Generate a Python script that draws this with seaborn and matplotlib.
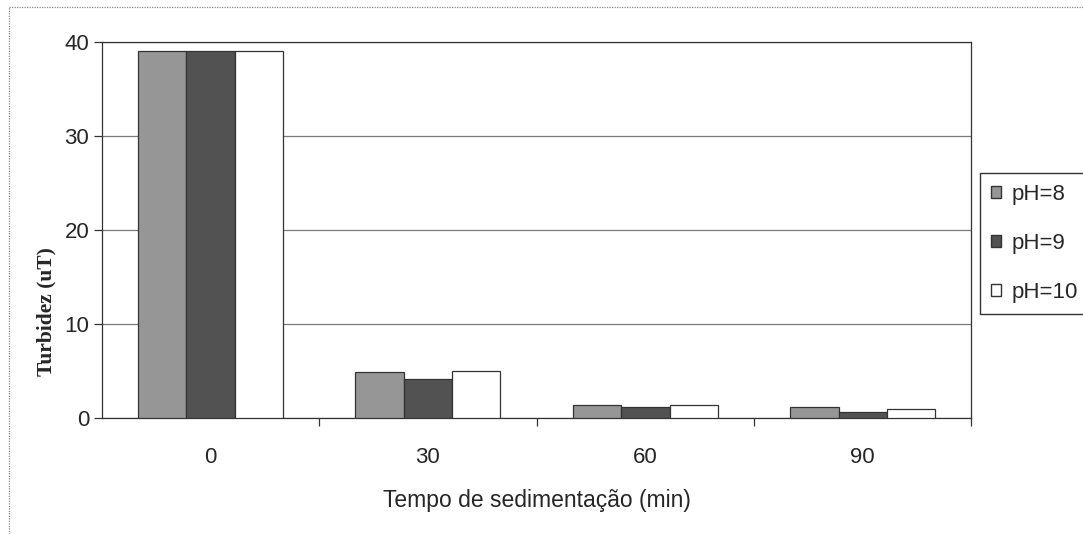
import matplotlib.pyplot as plt
import matplotlib.patches as mpatches
import matplotlib.lines as mlines
import seaborn as sns
import pandas as pd

# data
tempos = ["0", "30", "60", "90"]
ph8 = [39.0, 4.9, 1.35, 1.2]
ph9 = [39.0, 4.15, 1.2, 0.7]
ph10 = [39.0, 5.0, 1.4, 0.95]
series = ["pH=8", "pH=9", "pH=10"]
cores = ["#969696", "#525252", "#ffffff"]

df = pd.DataFrame({
    "tempo": tempos * 3,
    "turbidez": ph8 + ph9 + ph10,
    "serie": [s for s in series for _ in tempos],
})

sns.set_theme(style="white")
plt.rcParams["font.family"] = ["Liberation Sans", "DejaVu Sans"]

fig = plt.figure(figsize=(10.83, 5.34), dpi=100)
ax = fig.add_axes([0.094, 0.217, 0.803, 0.705])

sns.barplot(data=df, x="tempo", y="turbidez", hue="serie", order=tempos,
            hue_order=series, palette=cores, width=0.667, saturation=1,
            edgecolor="#333333", linewidth=0.9, ax=ax, legend=False, zorder=3)

ax.set_ylim(0, 40)
ax.set_xlim(-0.5, 3.5)
ax.set_yticks([0, 10, 20, 30, 40])
ax.yaxis.grid(True, color="#7a7a7a", linewidth=0.9, zorder=0)
ax.set_axisbelow(True)

# category labels without tick marks, tick marks at category boundaries
ax.set_xticks(range(len(tempos)))
ax.set_xticklabels(tempos)
ax.set_xticks([0.5, 1.5, 2.5, 3.5], minor=True)
ax.tick_params(axis="x", which="major", length=0, pad=21, labelsize=16)
ax.tick_params(axis="x", which="minor", length=6, width=0.9, color="#333333", bottom=True)
ax.tick_params(axis="y", length=6, width=0.9, color="#333333", left=True, labelsize=16, pad=3)

for s in ax.spines.values():
    s.set_color("#333333")
    s.set_linewidth(0.9)

ax.set_xlabel("Tempo de sedimentação (min)", fontsize=16.5, labelpad=15)
ax.set_ylabel("Turbidez (uT)", fontsize=15.5, family=["Liberation Serif"],
              fontweight="bold")
ax.yaxis.set_label_coords(-0.052, 0.282)

handles = [mpatches.Patch(facecolor=c, edgecolor="#333333", label=s)
           for c, s in zip(cores, series)]
leg = fig.legend(handles=handles, loc="center left", bbox_to_anchor=(0.905, 0.544),
                 frameon=True, fancybox=False, edgecolor="black", fontsize=16,
                 handlelength=0.45, handleheight=0.45, handletextpad=0.45,
                 labelspacing=1.25, borderpad=0.5, borderaxespad=0)
leg.get_frame().set_linewidth(1.0)

# outer frame of the chart (only left and top edges show)
for xs, ys in [([0.008, 0.008], [0.0, 0.987]), ([0.008, 1.0], [0.987, 0.987])]:
    fig.add_artist(mlines.Line2D(xs, ys, transform=fig.transFigure, color="#888888",
                                 linewidth=0.9, linestyle=(0, (1, 1))))

fig.savefig("out.png", dpi=100)
